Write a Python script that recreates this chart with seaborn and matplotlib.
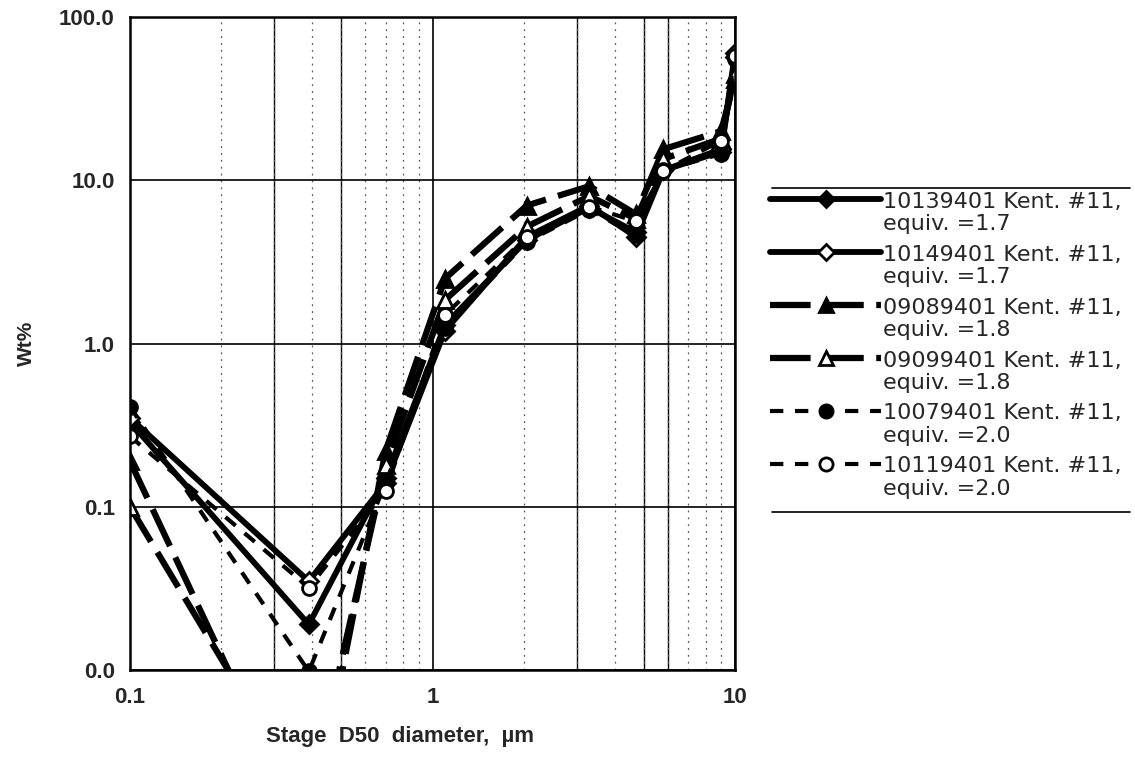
import matplotlib
matplotlib.use("Agg")
import matplotlib.pyplot as plt
from matplotlib.lines import Line2D
from matplotlib.legend_handler import HandlerLine2D
import seaborn as sns
import numpy as np

# ---- data ----
stage_d50 = [0.1, 0.39, 0.7, 1.1, 2.05, 3.3, 4.7, 5.8, 9.0, 10.0]

labels = [
    "10139401 Kent. #11,\nequiv. =1.7",
    "10149401 Kent. #11,\nequiv. =1.7",
    "09089401 Kent. #11,\nequiv. =1.8",
    "09099401 Kent. #11,\nequiv. =1.8",
    "10079401 Kent. #11,\nequiv. =2.0",
    "10119401 Kent. #11,\nequiv. =2.0",
]

wt_10139401 = [0.33, 0.019, 0.15, 1.30, 4.3, 6.8, 4.8, 11.5, 15.0, 57]
wt_10149401 = [0.35, 0.035, 0.14, 1.20, 4.5, 7.0, 4.5, 11.5, 15.5, 60]
wt_09089401 = [0.19, 0.0009, 0.22, 2.50, 7.0, 9.2, 6.2, 15.5, 20.0, 42]
wt_09099401 = [0.10, 0.0015, 0.18, 1.85, 5.2, 8.0, 5.8, 13.5, 18.0, 45]
wt_10079401 = [0.41, 0.0098, 0.14, 1.25, 4.2, 6.6, 4.6, 11.5, 14.5, 55]
wt_10119401 = [0.27, 0.032, 0.125, 1.50, 4.5, 6.9, 5.6, 11.4, 17.5, 58]

series = [wt_10139401, wt_10149401, wt_09089401, wt_09099401, wt_10079401, wt_10119401]

y_ticks = [0.01, 0.1, 1, 10, 100]
y_ticklabels = ["0.0", "0.1", "1.0", "10.0", "100.0"]
x_ticks = [0.1, 1, 10]
x_ticklabels = ["0.1", "1", "10"]

# ---- styles ----
styles = [
    dict(marker="D", mfc="black", ls="-", lw=4.2, ms=9),
    dict(marker="D", mfc="white", ls="-", lw=4.2, ms=9),
    dict(marker="^", mfc="black", ls=(0, (6.5, 2.0)), lw=4.5, ms=11),
    dict(marker="^", mfc="white", ls=(0, (6.5, 2.0)), lw=4.5, ms=11),
    dict(marker="o", mfc="black", ls=(0, (3.2, 2.8)), lw=3.0, ms=10),
    dict(marker="o", mfc="white", ls=(0, (3.2, 2.8)), lw=3.0, ms=10),
]

sns.set_style("white")
plt.rcParams["font.family"] = ["Liberation Sans", "DejaVu Sans"]

fig = plt.figure(figsize=(11.35, 7.57), dpi=100)
ax = fig.add_axes([130 / 1135, 1 - 670 / 757, (735 - 130) / 1135, (670 - 17) / 757])

ax.set_xscale("log")
ax.set_yscale("log")

handles = []
for vals, lab, st in zip(series, labels, styles):
    sns.lineplot(x=stage_d50, y=vals, ax=ax, color="black",
                 marker=st["marker"], markerfacecolor=st["mfc"],
                 markeredgecolor="black", markeredgewidth=2.0,
                 markersize=st["ms"], linestyle=st["ls"], linewidth=st["lw"],
                 label=lab, legend=False)
    handles.append(Line2D([], [], color="black", marker=st["marker"],
                          markerfacecolor=st["mfc"], markeredgecolor="black",
                          markeredgewidth=2.0, markersize=st["ms"] * 0.95,
                          linestyle=st["ls"], linewidth=st["lw"]))

ax.set_xlim(0.1, 10)
ax.set_ylim(0.01, 100)

ax.set_yticks(y_ticks)
ax.set_yticklabels(y_ticklabels)
ax.set_xticks(x_ticks)
ax.set_xticklabels(x_ticklabels)
ax.yaxis.set_minor_locator(matplotlib.ticker.NullLocator())
ax.xaxis.set_minor_locator(matplotlib.ticker.LogLocator(base=10, subs=np.arange(2, 10)))
ax.xaxis.set_minor_formatter(matplotlib.ticker.NullFormatter())

ax.tick_params(axis="y", which="major", direction="out", length=7, width=1.3,
               labelsize=16, pad=4, color="black")
ax.tick_params(axis="x", which="both", length=0, labelsize=16, pad=12)
for lbl in ax.get_xticklabels() + ax.get_yticklabels():
    lbl.set_fontweight("bold")

# gridlines
ax.grid(which="major", axis="both", color="black", lw=1.2, ls="-")
ax.grid(which="minor", axis="x", color="0.35", lw=0.9, ls=(0, (1.5, 4)))
solid_minor = [0.3, 0.5, 3, 5, 6]
for xv in solid_minor:
    ax.axvline(xv, color="black", lw=1.0, zorder=0.5)
ax.set_axisbelow(True)

for sp in ax.spines.values():
    sp.set_visible(True)
    sp.set_color("black")
    sp.set_linewidth(1.8)

ax.set_xlabel("Stage  D50  diameter,  \u00b5m", fontsize=16, fontweight="bold")
ax.xaxis.set_label_coords((400 - 130) / 605, -(726 - 670) / 653)
ax.set_ylabel("Wt%", fontsize=15, fontweight="bold")
ax.yaxis.set_label_coords((36 - 130) / 605, 0.5)

LEG_FS = 16


class UpHandler(HandlerLine2D):
    """Place the handle on the first line of a two-line label."""

    def create_artists(self, legend, orig_handle, xdescent, ydescent,
                       width, height, fontsize, trans):
        arts = super().create_artists(legend, orig_handle, xdescent, ydescent,
                                      width, height, fontsize, trans)
        dy = 0.55 * fontsize * 1.15
        for a in arts:
            a.set_ydata(np.asarray(a.get_ydata()) + dy)
        return arts


leg = fig.legend(handles, labels, loc="upper left",
                 bbox_to_anchor=(770 / 1135, 1 - 192 / 757),
                 frameon=False, prop={"family": "DejaVu Sans", "size": LEG_FS},
                 handlelength=5.0, handletextpad=0.1, labelspacing=0.47,
                 borderpad=0.0, borderaxespad=0.0,
                 handler_map={Line2D: UpHandler()})
for t in leg.get_texts():
    t.set_linespacing(1.15)

fig.add_artist(Line2D([772 / 1135, 1130 / 1135], [1 - 188 / 757] * 2,
                      transform=fig.transFigure, color="black", lw=1.2))
fig.add_artist(Line2D([772 / 1135, 1130 / 1135], [1 - 512 / 757] * 2,
                      transform=fig.transFigure, color="black", lw=1.2))

fig.savefig("out.png", dpi=100, facecolor="white")
